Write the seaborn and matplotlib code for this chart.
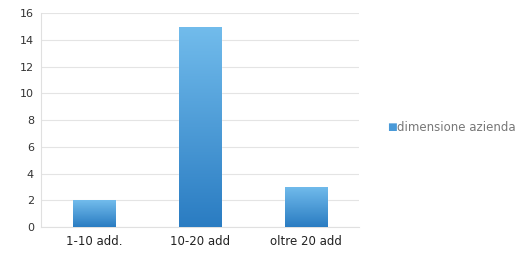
import numpy as np
import pandas as pd
import seaborn as sns
import matplotlib.pyplot as plt
from matplotlib.colors import LinearSegmentedColormap

categories = ['1-10 add.', '10-20 add', 'oltre 20 add']
values = [2, 15, 3]
series_name = 'dimensione azienda'

df = pd.DataFrame({'categoria': categories, 'valore': values})

sns.set_style('white')
plt.rcParams['font.family'] = ['DejaVu Sans']

fig = plt.figure(figsize=(5.24, 2.58), dpi=100)
ax = fig.add_axes([0.078, 0.12, 0.607, 0.829])

sns.barplot(data=df, x='categoria', y='valore', color='#3a8fd4', width=0.4,
            saturation=1, ax=ax, zorder=3)

# vertical gradient inside each bar
cmap = LinearSegmentedColormap.from_list('bar', ['#2a7cc2', '#72bcec'])
grad = np.linspace(0, 1, 256).reshape(-1, 1)
for patch in ax.patches:
    x0, y0 = patch.get_x(), patch.get_y()
    w, h = patch.get_width(), patch.get_height()
    im = ax.imshow(grad, cmap=cmap, aspect='auto', origin='lower',
                   extent=[x0, x0 + w, y0, y0 + h], zorder=4)
    im.set_clip_path(patch)

ax.set_xlim(-0.5, 2.5)
ax.set_ylim(0, 16)
ax.set_yticks(range(0, 17, 2))
ax.yaxis.grid(True, color='#e4e4e4', linewidth=0.8, zorder=0)
ax.set_axisbelow(True)
for s in ['top', 'right']:
    ax.spines[s].set_visible(False)
ax.spines['left'].set_color('#e0e0e0')
ax.spines['bottom'].set_color('#e0e0e0')
ax.set_xlabel('')
ax.set_ylabel('')
ax.tick_params(axis='y', labelsize=8, labelcolor='#333333', length=0, pad=5)
ax.tick_params(axis='x', labelsize=8.5, labelcolor='#222222', length=0, pad=6)

# legend to the right of the plot
fig.text(0.738, 0.508, '\u25a0', color='#4a9ad8', fontsize=7.5, va='center', ha='left')
fig.text(0.757, 0.505, series_name, color='#777777', fontsize=8.5, va='center', ha='left')

fig.savefig('out.png', dpi=100)
